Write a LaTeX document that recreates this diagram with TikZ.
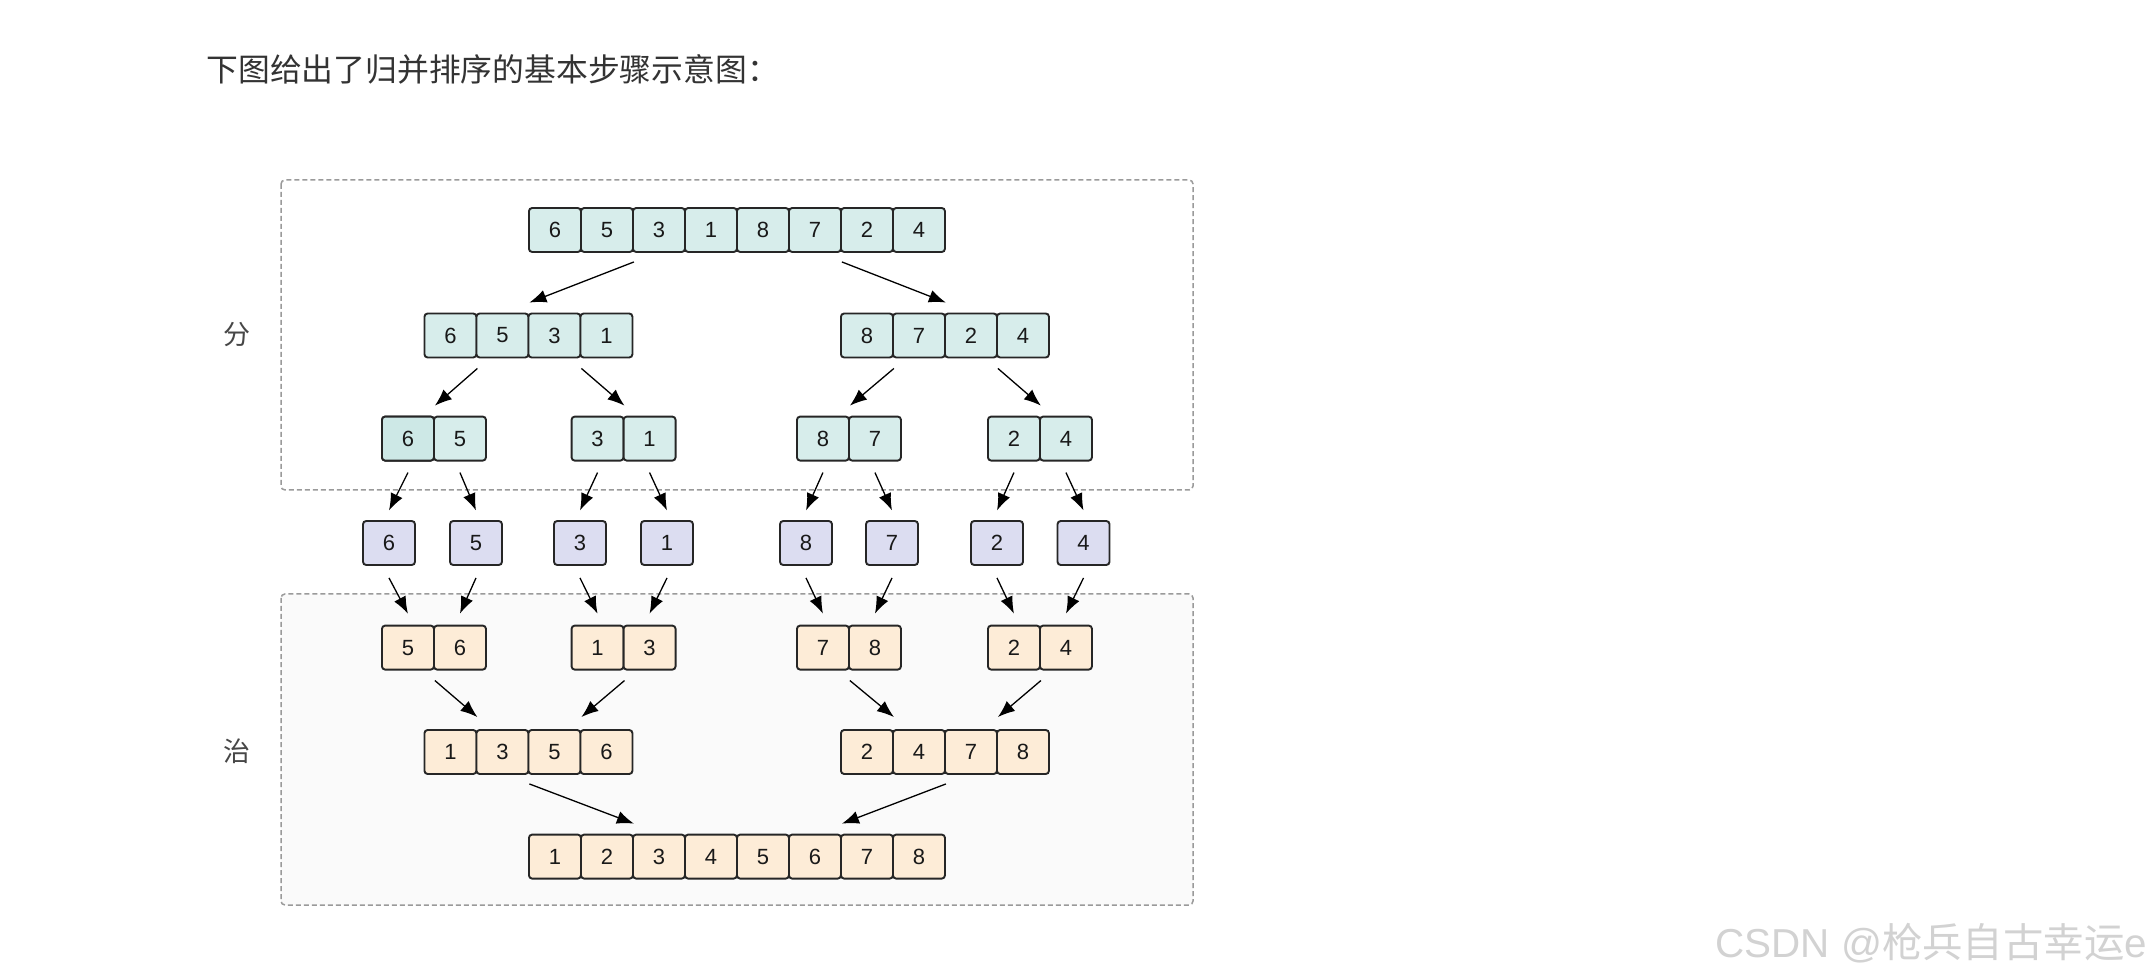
\documentclass[tikz,border=0pt]{standalone}
\usepackage{fontspec}
\setmainfont{Liberation Sans}
\newfontfamily\cjk{Noto Sans CJK SC}
\usetikzlibrary{arrows.meta}
\definecolor{cteal}{HTML}{D7EDEB}
\definecolor{cteald}{HTML}{CDE8E6}
\definecolor{clav}{HTML}{DCDDF1}
\definecolor{corange}{HTML}{FDECD7}
\definecolor{cboxfill}{HTML}{FAFAFA}
\definecolor{cdash}{HTML}{9A9A9A}
\definecolor{ctext}{HTML}{333333}
\definecolor{cwm}{HTML}{D2D2D2}
\tikzset{
  cellbox/.style={draw=black!85, line width=0.95pt, rounded corners=1.6pt,
    minimum width=26pt, minimum height=22pt, inner sep=0pt, anchor=west,
    font=\fontsize{11}{11}\selectfont, text=black!90},
  singlebox/.style={cellbox, anchor=center, fill=clav},
  groupbox/.style={draw=cdash, line width=0.75pt, dash pattern=on 2.5pt off 1.5pt, rounded corners=2pt},
  arr/.style={-{Latex[length=8.5pt,width=6.5pt]}, line width=0.65pt, black},
  sidelabel/.style={font=\cjk\fontsize{13.5}{13.5}\selectfont, text=black!72},
}
\newcommand\cellrow[5]{%
  \foreach \v [count=\i] in {#5} {%
    \node[cellbox, fill=#4] (#1\i) at (#2+52*\i-52, #3) {\v};
  }%
}
\begin{document}
\begin{tikzpicture}[x=0.5pt, y=-0.5pt]
\useasboundingbox[fill=white] (0,0) rectangle (2156,977);

% title
\node[anchor=west, inner sep=0pt, text=ctext, font=\cjk\fontsize{15.9}{15.9}\selectfont] (title) at (206,69) {下图给出了归并排序的基本步骤示意图：};

% group boxes
\draw[groupbox] (281,180) rectangle (1193,490);
\draw[groupbox, fill=cboxfill] (281,594) rectangle (1193,905);

\node[sidelabel] (fen) at (236.5,335) {分};
\node[sidelabel] (zhi) at (236.5,751) {治};

% rows
\cellrow{a}{528}{230}{cteal}{6,5,3,1,8,7,2,4}
\cellrow{b}{423.5}{335.5}{cteal}{6,5,3,1}
\cellrow{c}{840}{335.5}{cteal}{8,7,2,4}
\cellrow{d}{381}{438.6}{cteal}{6,5}
\node[cellbox, fill=cteald] (d1) at (381,438.6) {6};
\cellrow{e}{570.6}{438.6}{cteal}{3,1}
\cellrow{f}{796}{438.6}{cteal}{8,7}
\cellrow{g}{987}{438.6}{cteal}{2,4}

\node[singlebox] (s1) at (389,543) {6};
\node[singlebox] (s2) at (476,543) {5};
\node[singlebox] (s3) at (580,543) {3};
\node[singlebox] (s4) at (667,543) {1};
\node[singlebox] (s5) at (806,543) {8};
\node[singlebox] (s6) at (892,543) {7};
\node[singlebox] (s7) at (997,543) {2};
\node[singlebox] (s8) at (1083.5,543) {4};

\cellrow{h}{381}{647.6}{corange}{5,6}
\cellrow{i}{570.6}{647.6}{corange}{1,3}
\cellrow{j}{796}{647.6}{corange}{7,8}
\cellrow{k}{987}{647.6}{corange}{2,4}
\cellrow{m}{423.5}{752}{corange}{1,3,5,6}
\cellrow{n}{840}{752}{corange}{2,4,7,8}
\cellrow{p}{528}{856.6}{corange}{1,2,3,4,5,6,7,8}

% divide arrows
\draw[arr] ([yshift=-4.5pt]a2.south east) -- ([yshift=5pt]b2.north east);
\draw[arr] ([yshift=-4.5pt]a6.south east) -- ([yshift=5pt]c2.north east);
\draw[arr] ([yshift=-5pt]b1.south east) -- ([yshift=5pt]d1.north east);
\draw[arr] ([yshift=-5pt]b3.south east) -- ([yshift=5pt]e1.north east);
\draw[arr] ([yshift=-5pt]c1.south east) -- ([yshift=5pt]f1.north east);
\draw[arr] ([yshift=-5pt]c3.south east) -- ([yshift=5pt]g1.north east);
\draw[arr] ([yshift=-5.5pt]d1.south) -- ([yshift=4.8pt]s1.north);
\draw[arr] ([yshift=-5.5pt]d2.south) -- ([yshift=4.8pt]s2.north);
\draw[arr] ([yshift=-5.5pt]e1.south) -- ([yshift=4.8pt]s3.north);
\draw[arr] ([yshift=-5.5pt]e2.south) -- ([yshift=4.8pt]s4.north);
\draw[arr] ([yshift=-5.5pt]f1.south) -- ([yshift=4.8pt]s5.north);
\draw[arr] ([yshift=-5.5pt]f2.south) -- ([yshift=4.8pt]s6.north);
\draw[arr] ([yshift=-5.5pt]g1.south) -- ([yshift=4.8pt]s7.north);
\draw[arr] ([yshift=-5.5pt]g2.south) -- ([yshift=4.8pt]s8.north);
% conquer arrows
\draw[arr] ([yshift=-6pt]s1.south) -- ([yshift=5.5pt]h1.north);
\draw[arr] ([yshift=-6pt]s2.south) -- ([yshift=5.5pt]h2.north);
\draw[arr] ([yshift=-6pt]s3.south) -- ([yshift=5.5pt]i1.north);
\draw[arr] ([yshift=-6pt]s4.south) -- ([yshift=5.5pt]i2.north);
\draw[arr] ([yshift=-6pt]s5.south) -- ([yshift=5.5pt]j1.north);
\draw[arr] ([yshift=-6pt]s6.south) -- ([yshift=5.5pt]j2.north);
\draw[arr] ([yshift=-6pt]s7.south) -- ([yshift=5.5pt]k1.north);
\draw[arr] ([yshift=-6pt]s8.south) -- ([yshift=5.5pt]k2.north);
\draw[arr] ([yshift=-5pt]h1.south east) -- ([yshift=6pt]m1.north east);
\draw[arr] ([yshift=-5pt]i1.south east) -- ([yshift=6pt]m3.north east);
\draw[arr] ([yshift=-5pt]j1.south east) -- ([yshift=6pt]n1.north east);
\draw[arr] ([yshift=-5pt]k1.south east) -- ([yshift=6pt]n3.north east);
\draw[arr] ([yshift=-4.5pt]m2.south east) -- ([yshift=5pt]p2.north east);
\draw[arr] ([yshift=-4.5pt]n2.south east) -- ([yshift=5pt]p6.north east);

% watermark
\node[anchor=west, inner sep=0pt, text=cwm, font=\fontsize{20.2}{20.2}\selectfont] (wm) at (1715,943) {CSDN @{\cjk 枪兵自古幸运}e};
\end{tikzpicture}
\end{document}
